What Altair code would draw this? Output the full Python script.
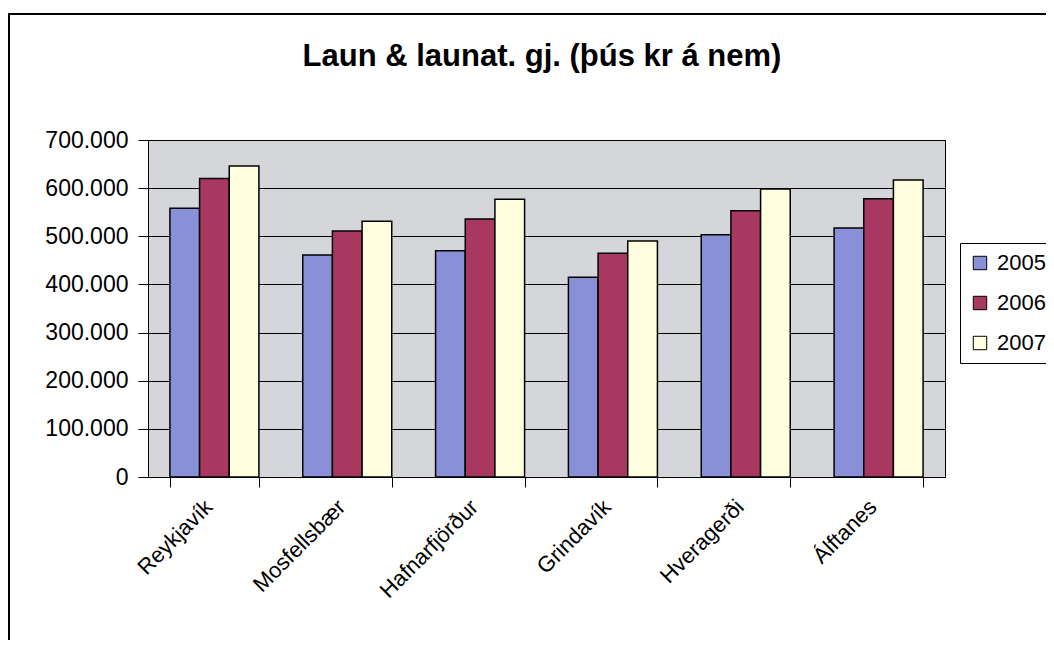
import altair as alt
import pandas as pd

title_text = "Laun & launat. gj. (þús kr á nem)"
categories = ["Reykjavík", "Mosfellsbær", "Hafnarfjörður", "Grindavík", "Hveragerði", "Álftanes"]
years = ["2005", "2006", "2007"]
v2005 = [558000, 461000, 470000, 415000, 503000, 517000]
v2006 = [620000, 511000, 536000, 465000, 553000, 578000]
v2007 = [646000, 531000, 577000, 490000, 598000, 617000]
y_ticks = [0, 100000, 200000, 300000, 400000, 500000, 600000, 700000]
colors = ["#8a90d8", "#a83860", "#ffffe0"]

rows = []
for yr, vals in zip(years, [v2005, v2006, v2007]):
    for c, v in zip(categories, vals):
        rows.append({"Sveitarfélag": c, "Ár": yr, "Laun": v})
df = pd.DataFrame(rows)

FONT = "Liberation Sans"

bars = alt.Chart(df).mark_bar(stroke="black", strokeWidth=1.5).encode(
    x=alt.X("Sveitarfélag:N", sort=categories, title=None,
            scale=alt.Scale(paddingInner=0.33, paddingOuter=0.165),
            axis=alt.Axis(labelAngle=-45, labelAlign="right", labelBaseline="middle",
                          labelFontSize=22, labelFont=FONT, labelColor="black",
                          labelPadding=16, labelOffset=-6, tickBand="extent", tickSize=10,
                          tickColor="black", domainColor="black", grid=False,
                          labelOverlap=False)),
    xOffset=alt.XOffset("Ár:N", sort=years, scale=alt.Scale(paddingInner=0, paddingOuter=0)),
    y=alt.Y("Laun:Q", title=None,
            scale=alt.Scale(domain=[0, 700000], nice=False),
            axis=alt.Axis(values=y_ticks, labelFontSize=23, labelFont=FONT,
                          labelColor="black", labelPadding=10, tickSize=10,
                          tickColor="black", domainColor="black",
                          gridColor="black", gridWidth=1, grid=True,
                          labelExpr="replace(format(datum.value, ','), ',', '.')")),
    color=alt.Color("Ár:N", sort=years, scale=alt.Scale(domain=years, range=colors),
                    legend=alt.Legend(title=None, orient="none", legendX=812, legendY=103,
                                      strokeColor="black", padding=9,
                                      labelFontSize=22, labelFont=FONT, labelColor="black",
                                      symbolType="square", symbolSize=180,
                                      symbolStrokeColor="black", symbolStrokeWidth=1,
                                      symbolOpacity=1, rowPadding=18, labelOffset=6,
                                      fillColor="white")),
)

deco = alt.Chart(pd.DataFrame({"t": [title_text]}))

frame = deco.mark_rect(
    filled=False, fillOpacity=0, stroke="black", strokeWidth=2
).encode(
    x=alt.value(-139), x2=alt.value(1200), y=alt.value(-126), y2=alt.value(800)
)

title = deco.mark_text(
    font=FONT, fontSize=31, fontWeight="bold", color="black",
    align="center", baseline="alphabetic"
).encode(
    text="t:N", x=alt.value(394), y=alt.value(-74.5)
)

chart = alt.layer(frame, title, bars).properties(
    width=797, height=337,
    background="white",
    autosize=alt.AutoSizeParams(type="none"),
    padding={"left": 140, "top": 132, "right": 101, "bottom": 163},
).configure_view(
    fill="#d5d6da", stroke="black", strokeWidth=1
)

chart.save("out.html", embed_options={"renderer": "svg", "actions": False})
